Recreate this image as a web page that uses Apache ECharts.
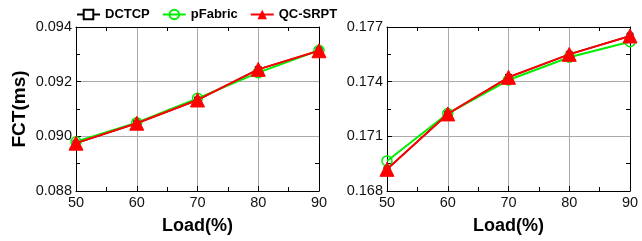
<!DOCTYPE html>
<html><head><meta charset="utf-8">
<script src="https://cdn.jsdelivr.net/npm/echarts@6/dist/echarts.min.js"></script>
<style>html,body{margin:0;padding:0;background:#fff}#c{width:642px;height:241px}</style>
</head><body><div id="c"></div>
<script>
const loads = [50, 60, 70, 80, 90];
const leftDCTCP = [0.08975, 0.09048, 0.09133, 0.09245, 0.09313];
const leftPFabric = [0.0898, 0.0905, 0.09139, 0.09233, 0.09315];
const leftQCSRPT = [0.08975, 0.09048, 0.09133, 0.09245, 0.09313];
const rightDCTCP = [0.16919, 0.17223, 0.17424, 0.1755, 0.17651];
const rightPFabric = [0.16965, 0.17225, 0.17409, 0.17534, 0.17619];
const rightQCSRPT = [0.16919, 0.17223, 0.17424, 0.1755, 0.17651];
const leftTicks = {min: 0.088, max: 0.094, interval: 0.002};
const rightTicks = {min: 0.168, max: 0.177, interval: 0.003};

const font = 'Liberation Sans, Arial, sans-serif';
const chart = echarts.init(document.getElementById('c'));
const grids = [
  {left: 76, top: 27, width: 243, height: 164},
  {left: 387, top: 27, width: 243, height: 164}
];
function xAx(gi, pos) {
  return {
    type: 'value', gridIndex: gi, position: pos, min: 50, max: 90, interval: 10,
    axisLine: {show: true, onZero: false, lineStyle: {color: '#000', width: 1}},
    axisTick: {show: pos === 'bottom', inside: true, length: 5, lineStyle: {color: '#000'}},
    minorTick: {show: true, splitNumber: 2, length: 4, lineStyle: {color: '#000'}},
    axisLabel: {show: pos === 'bottom', color: '#111', fontSize: 14.5, fontFamily: font, margin: 4},
    splitLine: {show: pos === 'bottom', lineStyle: {color: '#aaa', width: 1}},
    name: pos === 'bottom' ? 'Load(%)' : '', nameLocation: 'middle', nameGap: 26,
    nameTextStyle: {fontSize: 18, fontWeight: 'bold', color: '#000', fontFamily: font}
  };
}
function yAx(gi, pos, t, name) {
  return {
    type: 'value', gridIndex: gi, position: pos, min: t.min, max: t.max, interval: t.interval,
    axisLine: {show: true, onZero: false, lineStyle: {color: '#000', width: 1}},
    axisTick: {show: pos === 'left', inside: true, length: 5, lineStyle: {color: '#000'}},
    minorTick: {show: true, splitNumber: 2, length: 4, lineStyle: {color: '#000'}},
    axisLabel: {show: pos === 'left', color: '#111', fontSize: 14.5, fontFamily: font, margin: 4,
      formatter: v => v.toFixed(3)},
    splitLine: {show: pos === 'left', lineStyle: {color: '#aaa', width: 1}},
    name: name, nameLocation: 'middle', nameGap: 47,
    nameTextStyle: {fontSize: 19, fontWeight: 'bold', color: '#000', fontFamily: font}
  };
}
function series(gi, d, p, q) {
  const pair = arr => arr.map((v, i) => [loads[i], v]);
  return [
    {name: 'DCTCP', type: 'line', xAxisIndex: gi * 2, yAxisIndex: gi * 2, data: pair(d),
      symbol: 'rect', symbolSize: 6, itemStyle: {color: '#fff', borderColor: '#000', borderWidth: 1},
      lineStyle: {color: '#000', width: 1.5}, z: 2},
    {name: 'pFabric', type: 'line', xAxisIndex: gi * 2, yAxisIndex: gi * 2, data: pair(p),
      symbol: 'circle', symbolSize: 10, itemStyle: {color: 'rgba(255,255,255,0)', borderColor: '#00ee00', borderWidth: 1.5},
      lineStyle: {color: '#00ee00', width: 2}, z: 3},
    {name: 'QC-SRPT', type: 'line', xAxisIndex: gi * 2, yAxisIndex: gi * 2, data: pair(q),
      symbol: 'triangle', symbolSize: 14, itemStyle: {color: '#ff0000', borderColor: '#ff0000'},
      lineStyle: {color: '#ff0000', width: 2}, z: 4}
  ];
}
chart.setOption({
  animation: false,
  textStyle: {fontFamily: font},
  legend: {
    top: 3, left: 71, itemGap: 12, itemWidth: 23, itemHeight: 12,
    textStyle: {fontSize: 13, fontWeight: 'bold', color: '#000', fontFamily: font},
    data: ['DCTCP', 'pFabric', 'QC-SRPT']
  },
  grid: grids,
  xAxis: [xAx(0, 'bottom'), xAx(0, 'top'), xAx(1, 'bottom'), xAx(1, 'top')],
  yAxis: [yAx(0, 'left', leftTicks, 'FCT(ms)'), yAx(0, 'right', leftTicks, ''),
          yAx(1, 'left', rightTicks, ''), yAx(1, 'right', rightTicks, '')],
  series: [...series(0, leftDCTCP, leftPFabric, leftQCSRPT), ...series(1, rightDCTCP, rightPFabric, rightQCSRPT)]
});
</script></body></html>
